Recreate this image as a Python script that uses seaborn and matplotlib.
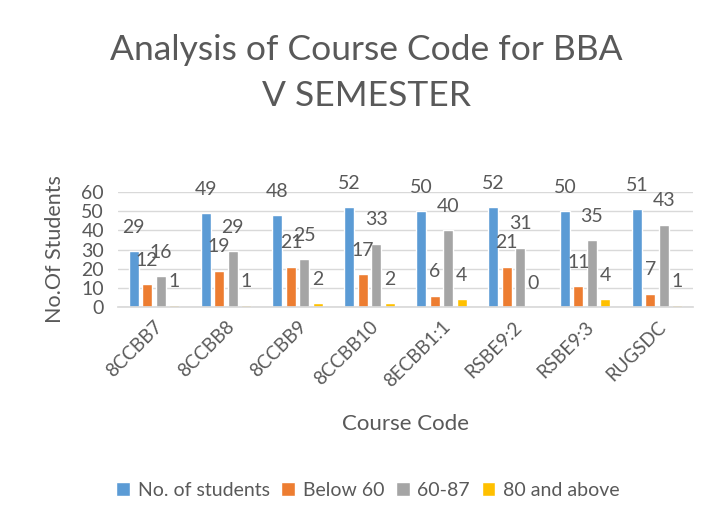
import matplotlib
matplotlib.use("Agg")
import matplotlib.pyplot as plt
import seaborn as sns
import pandas as pd

categories = ["8CCBB7", "8CCBB8", "8CCBB9", "8CCBB10", "8ECBB1:1", "RSBE9:2", "RSBE9:3", "RUGSDC"]
students = [29, 49, 48, 52, 50, 52, 50, 51]
below60 = [12, 19, 21, 17, 6, 21, 11, 7]
mid = [16, 29, 25, 33, 40, 31, 35, 43]
above80 = [1, 1, 2, 2, 4, 0, 4, 1]
series_names = ["No. of students", "Below 60", "60-87", "80 and above"]
yticks = [0, 10, 20, 30, 40, 50, 60]

rows = []
for name, vals in zip(series_names, [students, below60, mid, above80]):
    for c, v in zip(categories, vals):
        rows.append({"Course": c, "Series": name, "Value": v})
df = pd.DataFrame(rows)

sns.set_theme(style="white")
plt.rcParams["font.family"] = ["Lato", "DejaVu Sans"]
txt = "#595959"

fig = plt.figure(figsize=(7.07, 5.17), dpi=100)
ax = fig.add_axes([118/707, 1-307/517, (693-118)/707, (307-192)/517])
palette = ["#5B9BD5", "#ED7D31", "#A5A5A5", "#FFC000"]
sns.barplot(data=df, x="Course", y="Value", hue="Series", palette=palette,
            width=0.75, gap=0.26, ax=ax, legend=True, saturation=1)

for cont in ax.containers:
    ax.bar_label(cont, padding=11, fontsize=14, color=txt)

ax.set_ylim(0, 60)
ax.set_yticks(yticks)
ax.set_yticklabels([str(t) for t in yticks], fontsize=14, color=txt)
ax.yaxis.grid(True, color="#D9D9D9", linewidth=1)
ax.set_axisbelow(True)
for s in ["top", "right", "left"]:
    ax.spines[s].set_visible(False)
ax.spines["bottom"].set_color("#D9D9D9")
ax.tick_params(axis="y", length=0, pad=10)
ax.tick_params(axis="x", length=0, pad=8)
ax.set_xticks(range(len(categories)))
ax.set_xticklabels(categories, rotation=45, ha="right", rotation_mode="anchor",
                   fontsize=13.5, color=txt)
ax.set_xlabel("Course Code", fontsize=16, color=txt, labelpad=17)
ax.set_ylabel("No.Of Students", fontsize=15.5, color=txt, labelpad=12)

fig.suptitle("Analysis of Course Code for BBA\nV SEMESTER", fontsize=25.5,
             color=txt, x=366/707, y=0.935, linespacing=1.55)

h, l = ax.get_legend_handles_labels()
ax.get_legend().remove()
fig.legend(h, l, loc="center", bbox_to_anchor=(368/707, 1-490/517), ncol=4,
           frameon=False, fontsize=14, handlelength=0.7, handleheight=0.7,
           handletextpad=0.4, columnspacing=0.6, labelcolor=txt)

fig.savefig("out.png", dpi=100)
